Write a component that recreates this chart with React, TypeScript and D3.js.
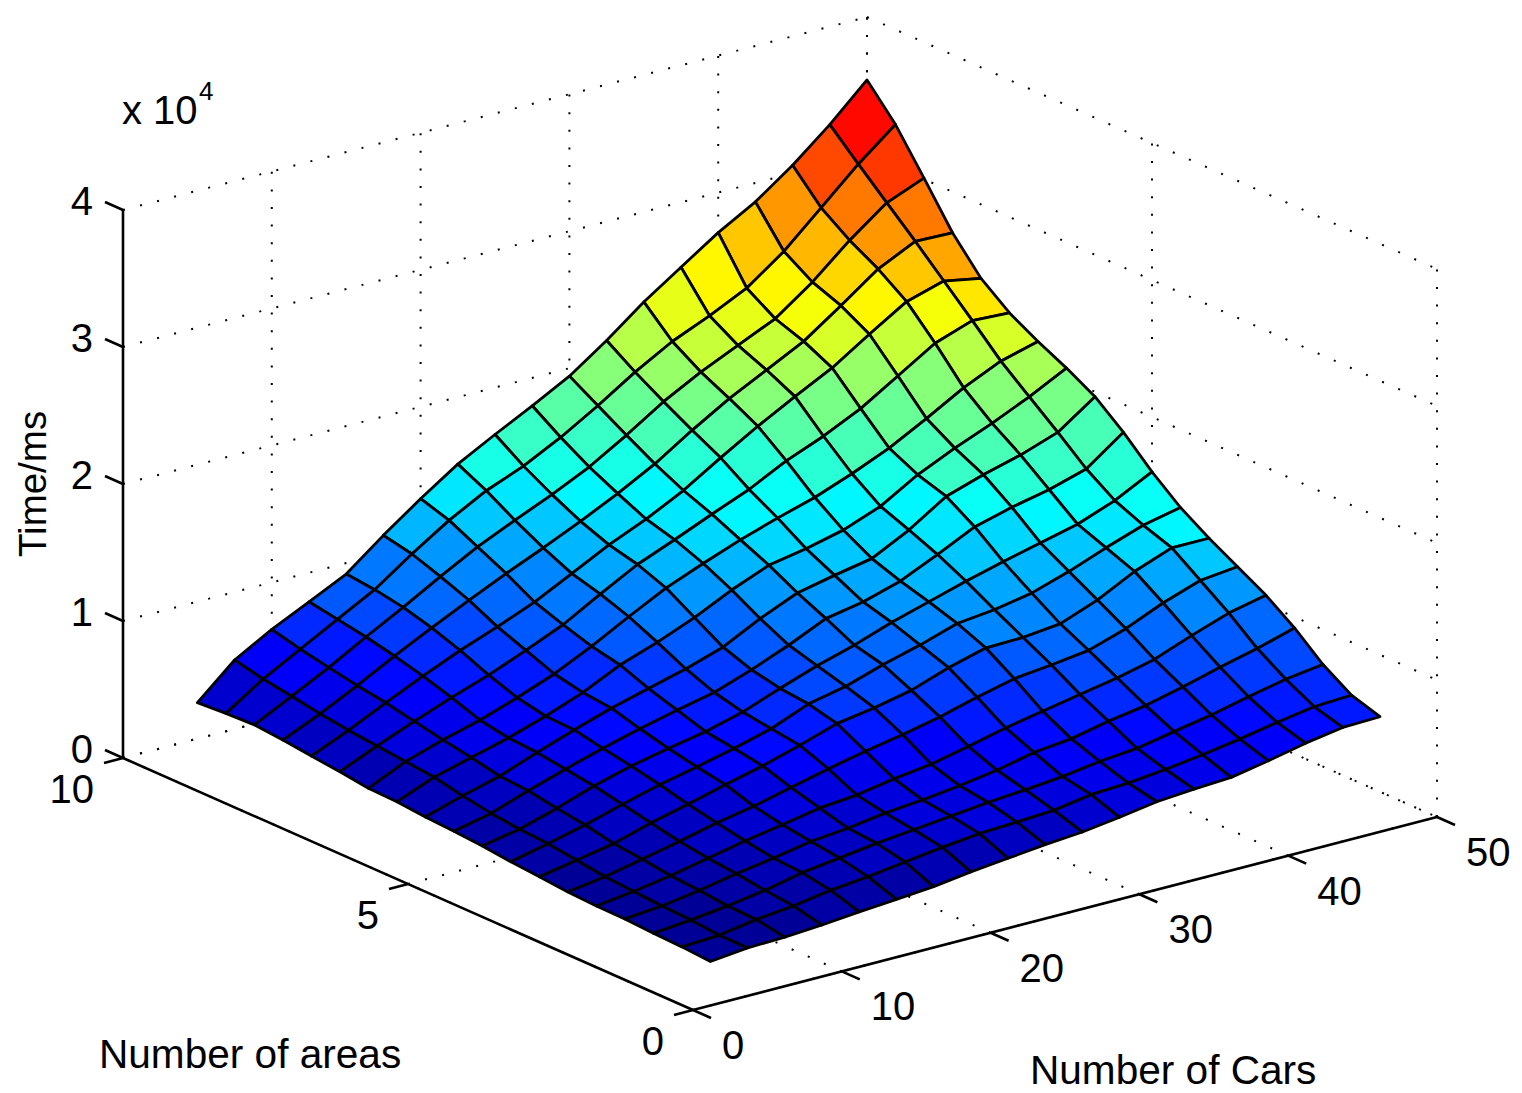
import * as d3 from 'd3'

const carCounts = [5, 7.5, 10, 12.5, 15, 17.5, 20, 22.5, 25, 27.5, 30, 32.5, 35, 37.5, 40, 42.5, 45, 47.5, 50]
const areaCounts = [1, 1.5, 2, 2.5, 3, 3.5, 4, 4.5, 5, 5.5, 6, 6.5, 7, 7.5, 8, 8.5, 9, 9.5, 10]

// time in ms, one row per area count, one column per car count
const timeRows = [
  [290, 580, 660, 840, 1100, 1310, 1530, 1900, 2190, 2480, 2700, 3070, 3500, 3720, 3870, 4380, 4960, 5400, 5480],
  [440, 580, 1020, 1310, 1750, 2040, 2410, 2770, 3070, 3210, 3360, 3800, 3940, 4230, 4600, 5040, 5550, 5990, 6130],
  [510, 770, 1100, 1530, 2120, 2480, 2850, 3140, 3430, 3720, 3940, 4200, 4600, 4850, 5370, 5880, 6500, 7080, 7450],
  [640, 880, 1310, 1830, 2260, 2770, 3030, 3430, 3690, 4020, 4450, 5040, 5330, 5910, 6350, 7010, 7740, 8400, 9200],
  [660, 1020, 1460, 2040, 2590, 3070, 3580, 3830, 4310, 4670, 5260, 5910, 6420, 6940, 7450, 8100, 9130, 10070, 10660],
  [770, 1170, 1750, 2340, 2990, 3500, 4160, 4820, 5400, 5910, 6500, 7230, 7880, 8180, 8540, 9420, 10590, 11530, 11830],
  [950, 1460, 1970, 2770, 3430, 4160, 4820, 5620, 6500, 6940, 7520, 8470, 9200, 9270, 9560, 10590, 11970, 12990, 12990],
  [1130, 1750, 2410, 3210, 3940, 4530, 5180, 5910, 7010, 7590, 8470, 9200, 10070, 10370, 10880, 11750, 12780, 13720, 14310],
  [1370, 1880, 2700, 3630, 4380, 4960, 5480, 6210, 7230, 8180, 8980, 9930, 10730, 11530, 12260, 12920, 13580, 14600, 15990],
  [1530, 2120, 3070, 3940, 4750, 5480, 6130, 6720, 7670, 8760, 10000, 10510, 11320, 12560, 13870, 14600, 15180, 15990, 17960],
  [1640, 2480, 3210, 4230, 5180, 6060, 6790, 7520, 8400, 9780, 10950, 11530, 12050, 13430, 15180, 16060, 16790, 17740, 19640],
  [1830, 2920, 3650, 4380, 5260, 6280, 7590, 8540, 9640, 10950, 12050, 12560, 13210, 14240, 15840, 17080, 18180, 19420, 20810],
  [1900, 3140, 4020, 4750, 5690, 6720, 8030, 9490, 10880, 11970, 12990, 13870, 14670, 15700, 16860, 18320, 19860, 21100, 21830],
  [2190, 3360, 4450, 5480, 6420, 7520, 8690, 10220, 11680, 12780, 13940, 15040, 16430, 17520, 18830, 20510, 22190, 23140, 23000],
  [2410, 3580, 4890, 6130, 7300, 8320, 9420, 10800, 12190, 13360, 14750, 16430, 18030, 19490, 20880, 22630, 24310, 25110, 24600],
  [2660, 3870, 5220, 6680, 8030, 9340, 10590, 11750, 12990, 14310, 15770, 17520, 19130, 20510, 21900, 23800, 25770, 27080, 27010],
  [2850, 4230, 5620, 7150, 8610, 10150, 11610, 12850, 14020, 15330, 16940, 18690, 20150, 21390, 22630, 24600, 26940, 28980, 30080],
  [2770, 4570, 6040, 7520, 8980, 10880, 12630, 14090, 15180, 16570, 18180, 19930, 21460, 22630, 23940, 25920, 28400, 30880, 33070],
  [2630, 5040, 6570, 7880, 9200, 11320, 13290, 15110, 16570, 17960, 19420, 21320, 23430, 25260, 27080, 28620, 30590, 32850, 35410],
]

const carTicks = [0, 10, 20, 30, 40, 50]
const areaTicks = [0, 5, 10]
const timeTicks = [0, 10000, 20000, 30000, 40000]

const WIDTH = 1522
const HEIGHT = 1093
const FONT = '"Liberation Sans", Arial, sans-serif'
const FONT_SIZE = 40

// oblique view: each data axis contributes a fixed screen offset
const originX = 693
const originY = 1010
const carsDx = d3.scaleLinear().domain([0, 50]).range([0, 744])
const carsDy = d3.scaleLinear().domain([0, 50]).range([0, -193])
const areasDx = d3.scaleLinear().domain([0, 10]).range([0, -570])
const areasDy = d3.scaleLinear().domain([0, 10]).range([0, -252])
const timeDy = d3.scaleLinear().domain([0, 40000]).range([0, -548])

function project(cars: number, areas: number, time: number): [number, number] {
  return [originX + carsDx(cars) + areasDx(areas), originY + carsDy(cars) + areasDy(areas) + timeDy(time)]
}

const timeMin = d3.min(timeRows.flat()) as number
const timeMax = d3.max(timeRows.flat()) as number

// MATLAB jet, 64 flat levels
const jet = d3
  .scaleLinear<string>()
  .domain([0, 0.125, 0.375, 0.625, 0.875, 1])
  .range(['#00008f', '#0000ff', '#00ffff', '#ffff00', '#ff0000', '#800000'])
  .interpolate(d3.interpolateRgb)

function faceColor(time: number) {
  const level = Math.min(63, Math.floor(((time - timeMin) / (timeMax - timeMin)) * 64))
  return jet((level + 0.5) / 64)
}

const polygon = d3.line().curve(d3.curveLinearClosed)

function Dotted({ from, to }: { from: [number, number]; to: [number, number] }) {
  return (
    <line
      x1={from[0]}
      y1={from[1]}
      x2={to[0]}
      y2={to[1]}
      stroke="black"
      strokeWidth={2}
      strokeDasharray="2 15.6"
    />
  )
}

function Solid({ from, to }: { from: [number, number]; to: [number, number] }) {
  return <line x1={from[0]} y1={from[1]} x2={to[0]} y2={to[1]} stroke="black" strokeWidth={2.6} />
}

export default function App() {
  // back of the surface first, so nearer cells paint over it
  const faces: { d: string; fill: string; key: string }[] = []
  for (let j = areaCounts.length - 2; j >= 0; j--) {
    for (let i = carCounts.length - 2; i >= 0; i--) {
      const d = polygon([
        project(carCounts[i], areaCounts[j], timeRows[j][i]),
        project(carCounts[i + 1], areaCounts[j], timeRows[j][i + 1]),
        project(carCounts[i + 1], areaCounts[j + 1], timeRows[j + 1][i + 1]),
        project(carCounts[i], areaCounts[j + 1], timeRows[j + 1][i]),
      ]) as string
      faces.push({ d, fill: faceColor(timeRows[j][i]), key: `${i}-${j}` })
    }
  }

  const textProps = { fontFamily: FONT, fontSize: FONT_SIZE, fill: 'black' }
  const titleProps = { fontFamily: FONT, fontSize: 40.6, fill: 'black' }

  return (
    <svg width={WIDTH} height={HEIGHT} style={{ position: 'absolute', left: 0, top: 0, background: 'white' }}>
      {/* grid on the back walls and floor */}
      {timeTicks.map(t => (
        <g key={`tg${t}`}>
          <Dotted from={project(0, 10, t)} to={project(50, 10, t)} />
          <Dotted from={project(50, 10, t)} to={project(50, 0, t)} />
        </g>
      ))}
      {carTicks.map(c => (
        <g key={`cg${c}`}>
          {c > 0 && <Dotted from={project(c, 10, 0)} to={project(c, 10, 40000)} />}
          <Dotted from={project(c, 0, 0)} to={project(c, 10, 0)} />
        </g>
      ))}
      {areaTicks.map(a => (
        <g key={`ag${a}`}>
          <Dotted from={project(50, a, 0)} to={project(50, a, 40000)} />
          <Dotted from={project(0, a, 0)} to={project(50, a, 0)} />
        </g>
      ))}

      {/* axis lines and tick marks */}
      <Solid from={project(0, 10, 0)} to={project(0, 10, 40000)} />
      <Solid from={project(0, 10, 0)} to={project(0, 0, 0)} />
      <Solid from={project(0, 0, 0)} to={project(50, 0, 0)} />
      {timeTicks.map(t => {
        const p = project(0, 10, t)
        return <Solid key={`tt${t}`} from={p} to={[p[0] - 18, p[1] - 8]} />
      })}
      {carTicks.map(c => {
        const p = project(c, 0, 0)
        return <Solid key={`ct${c}`} from={p} to={[p[0] + 18, p[1] + 8]} />
      })}
      {areaTicks.map(a => {
        const p = project(0, a, 0)
        return <Solid key={`at${a}`} from={p} to={[p[0] - 19, p[1] + 5]} />
      })}

      {/* surface */}
      {faces.map(f => (
        <path key={f.key} d={f.d} fill={f.fill} stroke="black" strokeWidth={2.8} strokeLinejoin="round" />
      ))}

      {/* tick labels */}
      {timeTicks.map(t => {
        const p = project(0, 10, t)
        return (
          <text key={`tl${t}`} x={93} y={p[1] + 5} textAnchor="end" {...textProps}>
            {t / 10000}
          </text>
        )
      })}
      {carTicks.map(c => {
        const p = project(c, 0, 0)
        return (
          <text key={`cl${c}`} x={p[0] + 29} y={p[1] + 49} {...textProps}>
            {c}
          </text>
        )
      })}
      {areaTicks.map(a => {
        const p = project(0, a, 0)
        return (
          <text key={`al${a}`} x={p[0] - 29} y={p[1] + 45} textAnchor="end" {...textProps}>
            {a}
          </text>
        )
      })}

      {/* exponent and axis titles */}
      <text x={122} y={124} {...textProps}>
        x 10
      </text>
      <text x={199} y={100} fontFamily={FONT} fontSize={26} fontWeight={300} fill="black">
        4
      </text>
      <text x={99} y={1068} {...titleProps}>
        Number of areas
      </text>
      <text x={1030} y={1084} {...titleProps}>
        Number of Cars
      </text>
      <text transform="translate(46,557) rotate(-90)" fontFamily={FONT} fontSize={38.5} fill="black">
        Time/ms
      </text>
    </svg>
  )
}
